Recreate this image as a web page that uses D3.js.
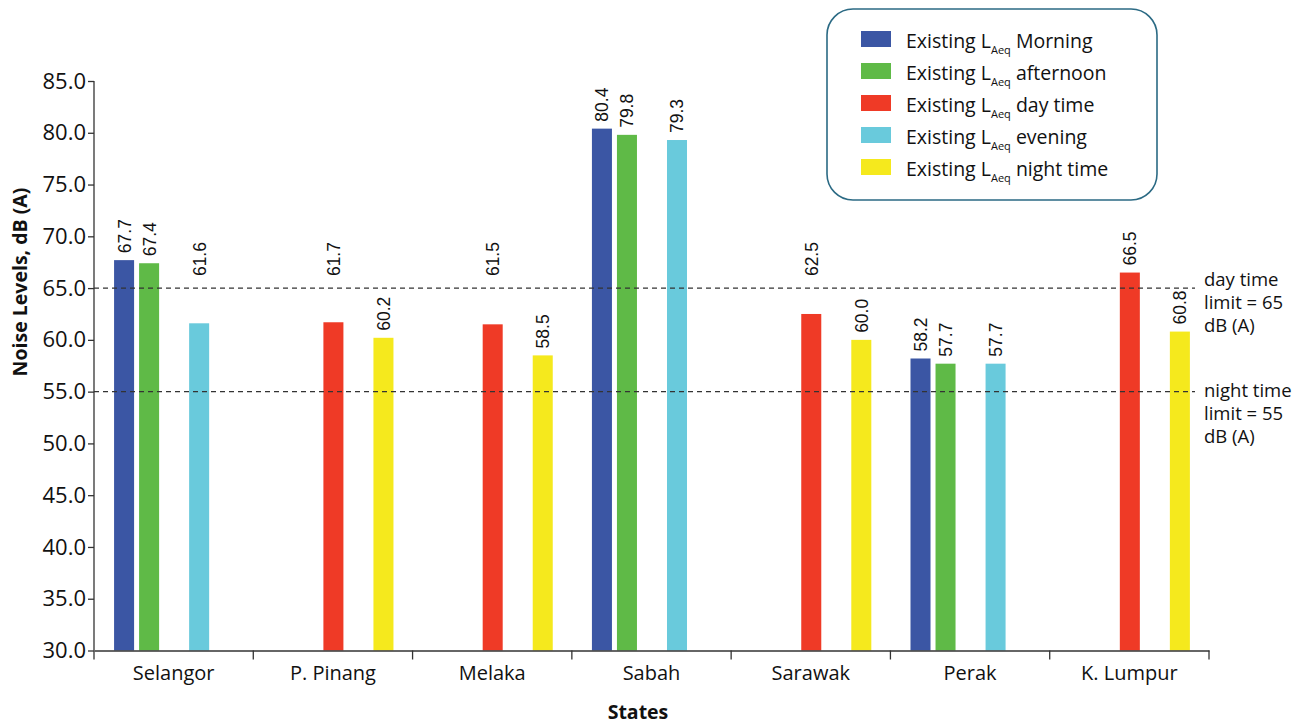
<!DOCTYPE html>
<html>
<head>
<meta charset="utf-8">
<script src="https://cdn.jsdelivr.net/npm/d3@7"></script>
<style>
  html, body { margin: 0; padding: 0; background: #fff; }
  svg { display: block; }
</style>
</head>
<body>
<svg id="chart" width="1309" height="727"></svg>
<script>
// ---- data ----
const states = ["Selangor", "P. Pinang", "Melaka", "Sabah", "Sarawak", "Perak", "K. Lumpur"];
const seriesNames = ["Morning", "afternoon", "day time", "evening", "night time"];
const morning   = [67.7, null, null, 80.4, null, 58.2, null];
const afternoon = [67.4, null, null, 79.8, null, 57.7, null];
const dayTime   = [null, 61.7, 61.5, null, 62.5, null, 66.5];
const evening   = [61.6, null, null, 79.3, null, 57.7, null];
const nightTime = [null, 60.2, 58.5, null, 60.0, null, 60.8];
const yTicks = [30, 35, 40, 45, 50, 55, 60, 65, 70, 75, 80, 85];
const dayLimit = 65;
const nightLimit = 55;
const colors = ["#3b56a4", "#5fba47", "#ef3a26", "#69cadc", "#f5e91d"];

(function () {
const seriesValues = [morning, afternoon, dayTime, evening, nightTime];

const svg = d3.select("#chart");
const pLeft = 94, pRight = 1209, pTop = 81, pBottom = 650.5;

const y = d3.scaleLinear().domain([30, 85]).range([pBottom, pTop]);
const x = d3.scaleBand().domain(states).range([pLeft, pRight]).padding(0);
const bw = x.bandwidth();
const x1 = d3.scaleBand().domain(seriesNames).range([bw * 0.126, bw * 0.88]).paddingInner(0.2).paddingOuter(0);

const axisFont = "'Open Sans', 'Noto Sans', sans-serif";
const labelFont = "'Liberation Sans', Arial, sans-serif";

// bars
const barData = [];
seriesValues.forEach((arr, si) => {
  arr.forEach((v, ci) => {
    if (v !== null) barData.push({ state: states[ci], series: seriesNames[si], si, value: v });
  });
});

svg.append("g").selectAll("rect").data(barData).join("rect")
  .attr("x", d => x(d.state) + x1(d.series))
  .attr("y", d => y(d.value))
  .attr("width", x1.bandwidth())
  .attr("height", d => pBottom - y(d.value))
  .attr("fill", d => colors[d.si]);

// limit lines
const lineEnd = 1195;
[dayLimit, nightLimit].forEach(v => {
  svg.append("line")
    .attr("x1", pLeft).attr("x2", lineEnd)
    .attr("y1", y(v)).attr("y2", y(v))
    .attr("stroke", "#333").attr("stroke-width", 1.3)
    .attr("stroke-dasharray", "5,4");
});

// value labels (rotated); labels that would cross the day limit line are lifted above it
const labelLen = 35, gap = 7;
svg.append("g").selectAll("text").data(barData).join("text")
  .attr("transform", d => {
    const cx = x(d.state) + x1(d.series) + x1.bandwidth() / 2 + 6.5;
    let b = y(d.value) - gap;
    const lineY = y(dayLimit);
    if (b > lineY && b - labelLen < lineY - 2) b = lineY - 12;
    return `translate(${cx},${b}) rotate(-90)`;
  })
  .attr("font-family", labelFont)
  .attr("font-size", 17.5)
  .attr("fill", "#111")
  .text(d => d.value.toFixed(1));

// y axis
const yAxis = d3.axisLeft(y).tickValues(yTicks).tickFormat(d3.format(".1f")).tickSize(6).tickSizeOuter(0);
const gy = svg.append("g").attr("transform", `translate(${pLeft},0)`).call(yAxis);
gy.select(".domain").attr("stroke", "#333").attr("stroke-width", 1.3).attr("d", `M0,${pBottom}V${pTop}`);
gy.selectAll(".tick line").attr("stroke", "#333").attr("stroke-width", 1.3);
gy.selectAll(".tick text").attr("font-family", axisFont).attr("font-size", 22).attr("fill", "#111").attr("x", -8);

// x axis
const xAxis = d3.axisBottom(x).tickSize(0).tickSizeOuter(0);
const gx = svg.append("g").attr("transform", `translate(0,${pBottom})`).call(xAxis);
gx.select(".domain").attr("stroke", "#333").attr("stroke-width", 1.3);
gx.selectAll(".tick text").attr("font-family", axisFont).attr("font-size", 20).attr("fill", "#111").attr("y", 15);
// boundary ticks between categories
const boundaries = states.map(s => x(s)).concat([pRight]);
svg.append("g").selectAll("line").data(boundaries).join("line")
  .attr("x1", d => d).attr("x2", d => d)
  .attr("y1", pBottom).attr("y2", pBottom + 9)
  .attr("stroke", "#333").attr("stroke-width", 1.3);

// axis titles
svg.append("text")
  .attr("transform", `translate(27,282) rotate(-90)`)
  .attr("text-anchor", "middle")
  .attr("font-family", axisFont).attr("font-weight", "bold").attr("font-size", 19.5)
  .attr("fill", "#111")
  .text("Noise Levels, dB (A)");
svg.append("text")
  .attr("x", 638).attr("y", 719)
  .attr("text-anchor", "middle")
  .attr("font-family", axisFont).attr("font-weight", "bold").attr("font-size", 19.5)
  .attr("fill", "#111")
  .text("States");

// limit annotations
const annotDay = ["day time", "limit = 65", "dB (A)"];
const annotNight = ["night time", "limit = 55", "dB (A)"];
[[annotDay, 286], [annotNight, 397]].forEach(([lines, y0]) => {
  svg.append("g").selectAll("text").data(lines).join("text")
    .attr("x", 1204).attr("y", (d, i) => y0 + i * 23)
    .attr("font-family", axisFont).attr("font-size", 18.5).attr("fill", "#111")
    .text(d => d);
});

// legend
const lg = svg.append("g");
lg.append("rect")
  .attr("x", 827).attr("y", 9).attr("width", 330).attr("height", 191)
  .attr("rx", 26).attr("ry", 26)
  .attr("fill", "#fff").attr("stroke", "#2b6a84").attr("stroke-width", 1.6);
seriesNames.forEach((name, i) => {
  const yy = 31 + i * 32;
  lg.append("rect").attr("x", 861).attr("y", yy).attr("width", 30).attr("height", 16).attr("fill", colors[i]);
  const t = lg.append("text").attr("x", 906).attr("y", yy + 17)
    .attr("font-family", axisFont).attr("font-size", 19.5).attr("fill", "#111");
  t.append("tspan").text("Existing L");
  t.append("tspan").attr("font-size", 11).attr("dy", 6).text("Aeq");
  t.append("tspan").attr("dy", -6).text(" " + name);
});
})();
</script>
</body>
</html>
